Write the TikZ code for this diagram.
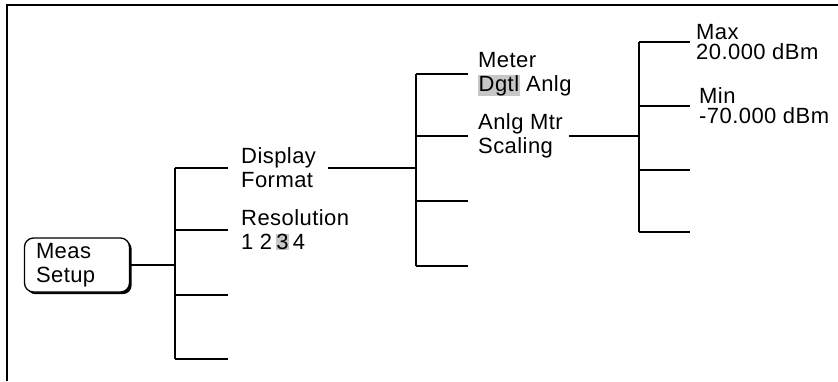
\documentclass[tikz,border=0pt]{standalone}
\usepackage{fontspec}
\setmainfont{Liberation Sans}[LetterSpace=2]
\usepackage{xcolor}
\usetikzlibrary{positioning,calc,shadows}

\newcommand{\hilite}[1]{{\setlength{\fboxsep}{0.5pt}\colorbox{black!22}{#1}}}

\begin{document}
\begin{tikzpicture}[x=1pt, y=-1pt,
    node distance=10pt,
    menu/.style={anchor=west, align=left, inner sep=0pt, font=\fontsize{22}{24}\selectfont},
    tight/.style={menu, font=\fontsize{22}{20}\selectfont},
    hardkey/.style={rectangle, draw, rounded corners=9pt, line width=1.3pt, fill=white,
        minimum width=105pt, minimum height=54pt, text width=82pt, align=left,
        font=\fontsize{22}{24}\selectfont,
        drop shadow={shadow xshift=2.2pt, shadow yshift=-2.2pt, fill=black, opacity=1}},
    wire/.style={line width=1.6pt}
]
    \useasboundingbox (0,0) rectangle (838,381);
    % frame
    \draw[line width=1.5pt] (7,381) -- (7,5) -- (838,5);

    % hard key
    \node[hardkey] (meas) at (77,265) {Meas\\Setup};

    % first level softkeys
    \coordinate (j1) at (175,265);
    \foreach \y/\n in {168/a1, 230/a2, 295/a3, 359/a4}
        \coordinate (\n) at (228,\y);
    \draw[wire] (meas.east) -- (j1);
    \draw[wire] (a1 -| j1) -- (a4 -| j1);
    \foreach \n in {a1,a2,a3,a4}
        \draw[wire] (\n -| j1) -- (\n);
    \node[menu, right=13pt of a1] (disp) {Display\\Format};
    \node[menu, right=13pt of a2] (res) {Resolution\\1 2\,\hilite{3}\,4};

    % second level softkeys
    \coordinate (j2) at (416,168);
    \foreach \y/\n in {74/b1, 136/b2, 201/b3, 266/b4}
        \coordinate (\n) at (468,\y);
    \draw[wire] ([xshift=12pt]disp.east) -- (j2);
    \draw[wire] (b1 -| j2) -- (b4 -| j2);
    \foreach \n in {b1,b2,b3,b4}
        \draw[wire] (\n -| j2) -- (\n);
    \node[menu, right=of b1] (meter) {Meter\\\hilite{Dgtl} Anlg};
    \node[menu, right=of b2] (scal) {Anlg Mtr\\Scaling};

    % third level softkeys
    \coordinate (j3) at (639,136);
    \foreach \y/\n in {42/c1, 106/c2, 170/c3, 232/c4}
        \coordinate (\n) at (690,\y);
    \draw[wire] ([xshift=6pt]scal.east) -- (j3);
    \draw[wire] (c1 -| j3) -- (c4 -| j3);
    \foreach \n in {c1,c2,c3,c4}
        \draw[wire] (\n -| j3) -- (\n);
    \node[tight, right=6pt of c1] (max) {Max\\20.000 dBm};
    \node[tight, right=9pt of c2] (min) {Min\\-70.000 dBm};
\end{tikzpicture}
\end{document}
